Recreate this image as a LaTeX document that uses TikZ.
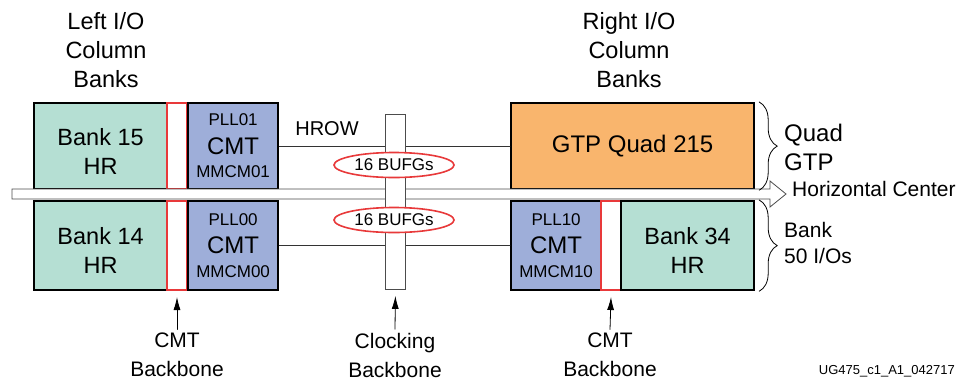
\documentclass[tikz,border=0pt]{standalone}
\usepackage{fontspec}
\setmainfont{Liberation Sans}
\usetikzlibrary{shapes.geometric,decorations.pathreplacing,arrows.meta}
\definecolor{bankgreen}{HTML}{B5DFD3}
\definecolor{cmtblue}{HTML}{9EAED9}
\definecolor{gtporange}{HTML}{F9B56D}
\definecolor{bbred}{HTML}{E8393A}

\begin{document}
\begin{tikzpicture}[x=1pt,y=-1pt,line cap=round]
	\tikzstyle{bankbox}=[draw,line width=2.2pt,fill=bankgreen,anchor=north west,inner sep=0pt,align=center,minimum width=133pt,minimum height=86pt,font=\fontsize{23.5}{29}\selectfont];
	\tikzstyle{cmtbox}=[bankbox,fill=cmtblue,minimum width=90pt,font=\fontsize{24}{26}\selectfont];
	\tikzstyle{bbstrip}=[draw=bbred,line width=2pt,fill=white,anchor=north west,minimum width=20pt,minimum height=86pt,inner sep=0pt];
	\tikzstyle{bufg}=[ellipse,draw=bbred,line width=1.6pt,fill=white,minimum width=120pt,minimum height=25pt,inner sep=0pt,font=\fontsize{17}{19}\selectfont];
	\tikzstyle{heading}=[align=center,font=\fontsize{23.5}{29}\selectfont];
	\tikzstyle{bblabel}=[align=center,font=\fontsize{21}{29}\selectfont];
	\tikzstyle{pointer}=[line width=0.8pt,-{Latex[length=13pt,width=7pt]}];
	\useasboundingbox (0,0) rectangle (957,381);
	% top row
	\node[bankbox,text height=56pt] (bankA) at (33,102) {Bank 15\\HR};
	\node[bbstrip] (bbA) at (166,102) {};
	\node[cmtbox] (cmtA) at (187,102) {{\fontsize{17}{18}\selectfont PLL01}\\[2.5pt]CMT\\[-2.5pt]{\fontsize{17}{18}\selectfont MMCM01}};
	\node[bankbox,fill=gtporange,minimum width=243pt,font=\fontsize{24}{29}\selectfont] (gtp) at (510,102) {GTP Quad 215};
	% bottom row
	\node[bankbox,minimum height=89pt,text height=56pt] (bankB) at (33,200) {Bank 14\\HR};
	\node[bbstrip,minimum height=89pt] (bbB) at (166,200) {};
	\node[cmtbox,minimum height=89pt] (cmtB) at (187,200) {{\fontsize{17}{18}\selectfont PLL00}\\[2.5pt]CMT\\[-2.5pt]{\fontsize{17}{18}\selectfont MMCM00}};
	\node[cmtbox,minimum height=89pt] (cmtC) at (510,200) {{\fontsize{17}{18}\selectfont PLL10}\\[2.5pt]CMT\\[-2.5pt]{\fontsize{17}{18}\selectfont MMCM10}};
	\node[bbstrip,minimum height=89pt] (bbC) at (600,200) {};
	\node[bankbox,minimum height=89pt,text height=56pt] (bankC) at (620,200) {Bank 34\\HR};
	% HROW
	\draw[line width=0.8pt,black!80] (cmtA) -- (gtp);
	\draw[line width=0.8pt,black!80] (cmtB) -- (cmtC);
	\node[font=\fontsize{20}{22}\selectfont] (hrow) at (327,129) {HROW};
	% horizontal center
	\draw[draw=black!70,line width=0.8pt,fill=white] (12,189) -- (770,189) -- (770,181) -- (786,194) -- (770,207) -- (770,199) -- (12,199) -- cycle;
	\coordinate (hc) at (786,194);
	\node[anchor=west,inner sep=0pt,font=\fontsize{21}{23}\selectfont] (hclbl) at ([xshift=6pt,yshift=5pt]hc) {Horizontal Center};
	% clocking backbone
	\node[draw=black!70,line width=0.8pt,fill=white,anchor=north west,minimum width=20pt,minimum height=175pt,inner sep=0pt] (clk) at (385,114) {};
	\node[bufg] (bufgA) at (394,165) {16 BUFGs};
	\node[bufg] (bufgB) at (394,220) {16 BUFGs};
	% braces
	\draw[decorate,decoration={brace,amplitude=18pt},line width=0.8pt] ([xshift=4pt]gtp.north east) -- ([xshift=4pt]gtp.south east);
	\draw[decorate,decoration={brace,amplitude=18pt},line width=0.8pt] ([xshift=4pt]bankC.north east) -- ([xshift=4pt]bankC.south east);
	\node[anchor=west,align=left,inner sep=0pt,font=\fontsize{24}{29}\selectfont] (quadlbl) at (784,147) {Quad\\GTP};
	\node[anchor=west,align=left,inner sep=0pt,font=\fontsize{21}{26}\selectfont] (banklbl) at (784,243) {Bank\\50 I/Os};
	% headings
	\node[heading] (lefthead) at (106,50) {Left I/O\\Column\\Banks};
	\node[heading] (righthead) at (629,50) {Right I/O\\Column\\Banks};
	% backbone pointers
	\node[bblabel] (bblblA) at (177,355) {CMT\\Backbone};
	\node[bblabel] (clklbl) at (395,355) {Clocking\\Backbone};
	\node[bblabel] (bblblC) at (610,355) {CMT\\Backbone};
	\draw[pointer] (bblblA.north) -- ([yshift=-6pt]bbB.south);
	\draw[pointer] (clklbl.north) -- ([yshift=-6pt]clk.south);
	\draw[pointer] (bblblC.north) -- ([yshift=-6pt]bbC.south);
	\node[anchor=east,inner sep=0pt,font=\fontsize{13}{15}\selectfont] (tag) at (955,371) {UG475\_c1\_A1\_042717};
\end{tikzpicture}
\end{document}
